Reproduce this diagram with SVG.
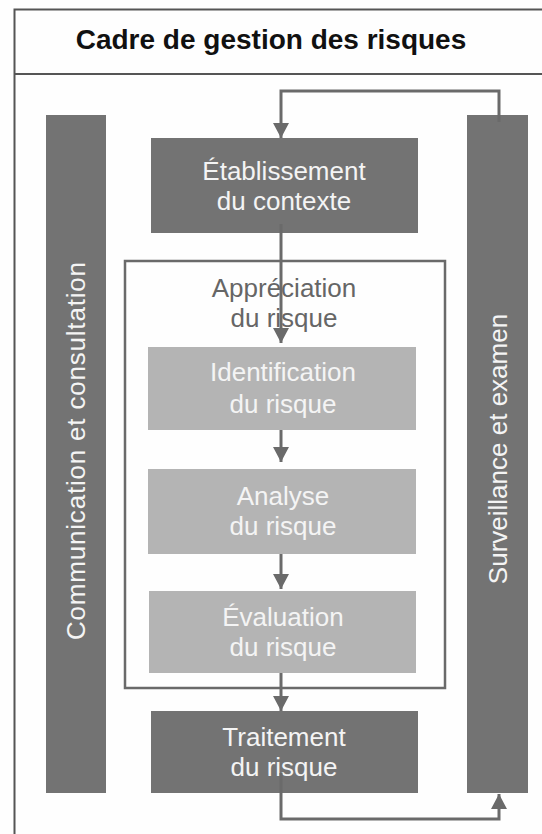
<svg xmlns="http://www.w3.org/2000/svg" width="542" height="834" viewBox="0 0 542 834">
<defs>
<style>
.t{font-family:"Liberation Sans",Arial,sans-serif;font-size:26px;text-anchor:middle}
.w{fill:#f4f4f4}
.dk{fill:#737373}
.lt{fill:#b4b4b4}
.c{fill:none;stroke:#6a6a6a;stroke-width:3}
</style>
<marker id="ah" viewBox="0 0 15 16" refX="15" refY="8" markerWidth="15" markerHeight="16" markerUnits="userSpaceOnUse" orient="auto">
<path d="M0,0 L15,8 L0,16 z" fill="#6a6a6a"/>
</marker>
</defs>
<rect width="542" height="834" fill="#fefefe"/>
<g id="frame">
<rect x="14.5" y="9.5" width="540" height="840" fill="none" stroke="#555" stroke-width="2"/>
<line x1="14" y1="74" x2="542" y2="74" stroke="#555" stroke-width="2"/>
<text x="271" y="49" style="font-family:'Liberation Sans',Arial,sans-serif;font-size:28px;font-weight:bold;text-anchor:middle" fill="#111">Cadre de gestion des risques</text>
</g>
<g id="communication">
<rect x="46" y="115" width="60" height="678" class="dk"/>
<text class="t w" transform="translate(85,451) rotate(-90)" x="0" y="0" textLength="378" lengthAdjust="spacing">Communication et consultation</text>
</g>
<g id="surveillance">
<rect x="467" y="115" width="61" height="678" class="dk"/>
<text class="t w" transform="translate(507,449) rotate(-90)" x="0" y="0">Surveillance et examen</text>
</g>
<g id="appreciation">
<rect x="125" y="261" width="320" height="427" fill="none" stroke="#6a6a6a" stroke-width="2.5"/>
<text class="t" x="284" y="297" fill="#666">Appréciation</text>
<text class="t" x="284" y="327" fill="#666">du risque</text>
</g>
<g id="etablissement">
<rect x="151" y="138" width="267" height="95" class="dk"/>
<text class="t w" x="284" y="180">Établissement</text>
<text class="t w" x="284" y="210">du contexte</text>
</g>
<g id="identification">
<rect x="148" y="347" width="268" height="83" class="lt"/>
<text class="t w" x="283" y="381">Identification</text>
<text class="t w" x="283" y="413">du risque</text>
</g>
<g id="analyse">
<rect x="148" y="469" width="268" height="85" class="lt"/>
<text class="t w" x="283" y="505">Analyse</text>
<text class="t w" x="283" y="535">du risque</text>
</g>
<g id="evaluation">
<rect x="149" y="591" width="267" height="82" class="lt"/>
<text class="t w" x="283" y="626">Évaluation</text>
<text class="t w" x="283" y="656">du risque</text>
</g>
<g id="traitement">
<rect x="151" y="711" width="267" height="82" class="dk"/>
<text class="t w" x="284" y="746">Traitement</text>
<text class="t w" x="284" y="776">du risque</text>
</g>
<g id="connectors">
<path class="c" d="M499,122 V91 H281 V138" marker-end="url(#ah)"/>
<path class="c" d="M281,224 V343" marker-end="url(#ah)"/>
<path class="c" d="M281,430 V462" marker-end="url(#ah)"/>
<path class="c" d="M281,554 V589" marker-end="url(#ah)"/>
<path class="c" d="M281,673 V711" marker-end="url(#ah)"/>
<path class="c" d="M281,773 V819 H499 V794" marker-end="url(#ah)"/>
</g>
</svg>
